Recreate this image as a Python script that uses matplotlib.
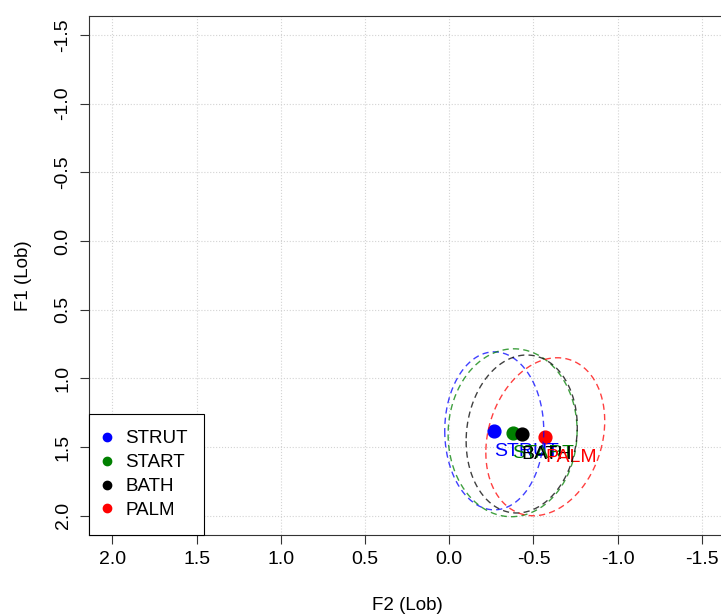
import matplotlib
matplotlib.use("Agg")

import matplotlib.pyplot as plt
from matplotlib.lines import Line2D
import numpy as np

plt.rcParams['font.family'] = ['Liberation Sans', 'DejaVu Sans']

vowels = ["STRUT", "START", "BATH", "PALM"]
colours = ["blue", "#008000", "black", "red"]

# normalised means (Lobanov) per vowel
f2_mean = [-0.267, -0.376, -0.430, -0.570]
f1_mean = [1.382, 1.396, 1.405, 1.425]

# ellipse half widths and correlation
f2_spread = [0.294, 0.383, 0.330, 0.353]
f1_spread = [0.575, 0.611, 0.575, 0.575]
f1f2_corr = [0.0, 0.02, 0.09, 0.20]

ticks = [2.0, 1.5, 1.0, 0.5, 0.0, -0.5, -1.0, -1.5]

fig = plt.figure(figsize=(7.21, 6.16), dpi=100)
ax = fig.add_axes([0.1233, 0.1315, 0.8829, 0.8432])

ax.set_xlim(2.14, -1.64)
ax.set_ylim(2.14, -1.64)
ax.set_xticks(ticks)
ax.set_yticks(ticks)
ax.set_xticklabels([f"{t:.1f}" for t in ticks])
ax.set_yticklabels([f"{t:.1f}" for t in ticks], rotation=90, va="center")
ax.grid(True, color="#D3D3D3", linestyle=":", linewidth=0.8)
ax.set_axisbelow(True)

ax.tick_params(axis="both", labelsize=14, length=6.5, width=0.8, color="#333333")
ax.tick_params(axis="x", pad=5)
ax.tick_params(axis="y", pad=6)
for sp in ax.spines.values():
    sp.set_linewidth(0.8)
    sp.set_color("#333333")

ax.set_xlabel("F2 (Lob)", fontsize=13.5, labelpad=21)
ax.set_ylabel("F1 (Lob)", fontsize=13.5, labelpad=16)

# means
for i in range(len(vowels)):
    ax.plot(f2_mean[i], f1_mean[i], "o", color=colours[i], markersize=9.2, zorder=3)

for i in range(len(vowels)):
    ax.annotate(vowels[i], (f2_mean[i], f1_mean[i]), xytext=(0, -15),
                textcoords="offset points", ha="left", va="center",
                fontsize=14, color=colours[i], zorder=4)

# dashed ellipses
t = np.linspace(0, 2 * np.pi, 300)
for i in range(len(vowels)):
    r = f1f2_corr[i]
    ex = f2_mean[i] + f2_spread[i] * np.cos(t)
    ey = f1_mean[i] + f1_spread[i] * (r * np.cos(t) + np.sqrt(1 - r ** 2) * np.sin(t))
    ax.plot(ex, ey, color=colours[i], linewidth=1.0, alpha=0.75,
            linestyle=(0, (4.5, 3)), zorder=5)

handles = [Line2D([0], [0], marker="o", linestyle="", color=c, markersize=6)
           for c in colours]
leg = ax.legend(handles, vowels, loc="lower left", borderaxespad=0,
                fontsize=13.5, fancybox=False, framealpha=1, edgecolor="black",
                handlelength=0.2, handletextpad=0.9, borderpad=0.85,
                labelspacing=0.36)
leg.get_frame().set_linewidth(0.8)

fig.savefig("out.png", dpi=100)
